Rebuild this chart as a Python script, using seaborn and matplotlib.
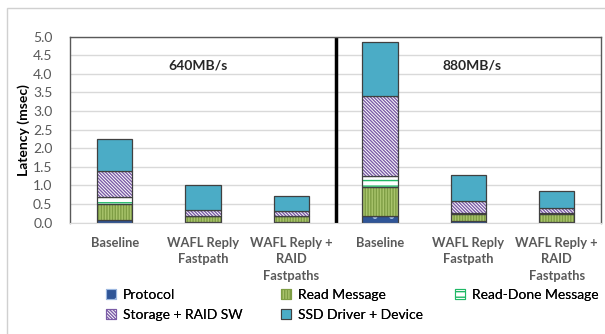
import matplotlib
matplotlib.use('Agg')
import matplotlib.pyplot as plt
import seaborn as sns
import pandas as pd
import numpy as np
from matplotlib.patches import Patch, Rectangle

# dados
groups = ['b640', 'wr640', 'wrr640', 'b880', 'wr880', 'wrr880']
tick_labels = ['Baseline', 'WAFL Reply\nFastpath', 'WAFL Reply +\nRAID\nFastpaths',
               'Baseline', 'WAFL Reply\nFastpath', 'WAFL Reply +\nRAID\nFastpaths']
protocol = [0.07, 0.02, 0.03, 0.19, 0.04, 0.02]
read_msg = [0.44, 0.15, 0.14, 0.77, 0.20, 0.22]
read_done = [0.18, 0.01, 0.01, 0.30, 0.01, 0.01]
storage_raid = [0.69, 0.16, 0.13, 2.15, 0.34, 0.15]
ssd_driver = [0.87, 0.67, 0.41, 1.45, 0.69, 0.46]

series = ['Protocol', 'Read Message', 'Read-Done Message', 'Storage + RAID SW', 'SSD Driver + Device']
values = [protocol, read_msg, read_done, storage_raid, ssd_driver]
# (cor de fundo, cor da hachura, hachura)
styles = [('#2F5597', '#9DB8E0', '.'),
          ('#A9C46C', '#7E9D44', '||||||'),
          ('white', '#1FB865', '---'),
          ('white', '#7B5CA6', '\\' * 10),
          ('#4BACC6', '#4BACC6', '')]

sns.set_style('white')
plt.rcParams['font.family'] = ['Lato', 'DejaVu Sans']
plt.rcParams['hatch.linewidth'] = 1.0

fig = plt.figure(figsize=(6.05, 3.34), dpi=100)
ax = fig.add_axes([0.1165, 0.3332, 0.8767, 0.5575])

df = pd.DataFrame({'grupo': groups})
bottom = np.zeros(len(groups))
for name, vals, (fc, hc, h) in zip(series, values, styles):
    # camada com cor e hachura
    sns.barplot(x=df['grupo'], y=vals, order=groups, color=fc, saturation=1, width=0.4,
                bottom=bottom, hatch=h, edgecolor=hc, linewidth=0, ax=ax)
    # contorno
    sns.barplot(x=df['grupo'], y=vals, order=groups, color='none', saturation=1, width=0.4,
                bottom=bottom, edgecolor='#404040', linewidth=0.9, facecolor='none', ax=ax)
    bottom = bottom + np.array(vals)

ax.set_xlim(-0.5, 5.5)
ax.set_ylim(0, 5.0)
ax.set_yticks(np.arange(0, 5.01, 0.5))
ax.set_yticklabels([f'{v:.1f}' for v in np.arange(0, 5.01, 0.5)], color='#595959', fontsize=10)
ax.set_xticks(range(6))
ax.set_xticklabels(tick_labels, color='#595959', fontsize=9.3, fontweight='bold', linespacing=1.45)
ax.tick_params(axis='y', length=0, pad=13)
ax.tick_params(axis='x', length=0, pad=10)
ax.set_xlabel('')
ax.set_ylabel('Latency (msec)', fontsize=10, fontweight='bold', color='black', labelpad=2)
ax.grid(axis='y', color='#D9D9D9', linewidth=1)
ax.set_axisbelow(True)
for s in ['left', 'top', 'right']:
    ax.spines[s].set_color('#595959')
    ax.spines[s].set_linewidth(1)
ax.spines['bottom'].set_color('#D9D9D9')

# separador entre 640MB/s e 880MB/s
ax.axvline(2.5, color='black', linewidth=2.5)
ax.text(0.94, 4.21, '640MB/s', ha='center', va='center', fontsize=10, fontweight='bold')
ax.text(4.04, 4.21, '880MB/s', ha='center', va='center', fontsize=10, fontweight='bold')

# legenda: uma coluna por vez, em posições fixas
handles = [Patch(facecolor=fc, edgecolor=hc if h else '#404040', hatch=h, linewidth=0.8)
           for fc, hc, h in styles]
columns = [([0, 3], 106), ([1, 4], 281), ([2], 455)]
for idx, xpix in columns:
    leg = fig.legend([handles[i] for i in idx], [series[i] for i in idx],
                     loc='upper left', bbox_to_anchor=(xpix / 605, 1 - 289 / 334), frameon=False,
                     fontsize=10, handlelength=0.75, handleheight=0.75, handletextpad=0.45,
                     labelspacing=0.55, borderaxespad=0, borderpad=0, labelcolor='black')
    fig.add_artist(leg)

# moldura externa
fig.patches.append(Rectangle((7 / 605, -0.1), 1.2, 1.1 - 8 / 334, transform=fig.transFigure,
                             fill=False, edgecolor='#D0D0D0', linewidth=1))

fig.savefig('out.png', dpi=100)
